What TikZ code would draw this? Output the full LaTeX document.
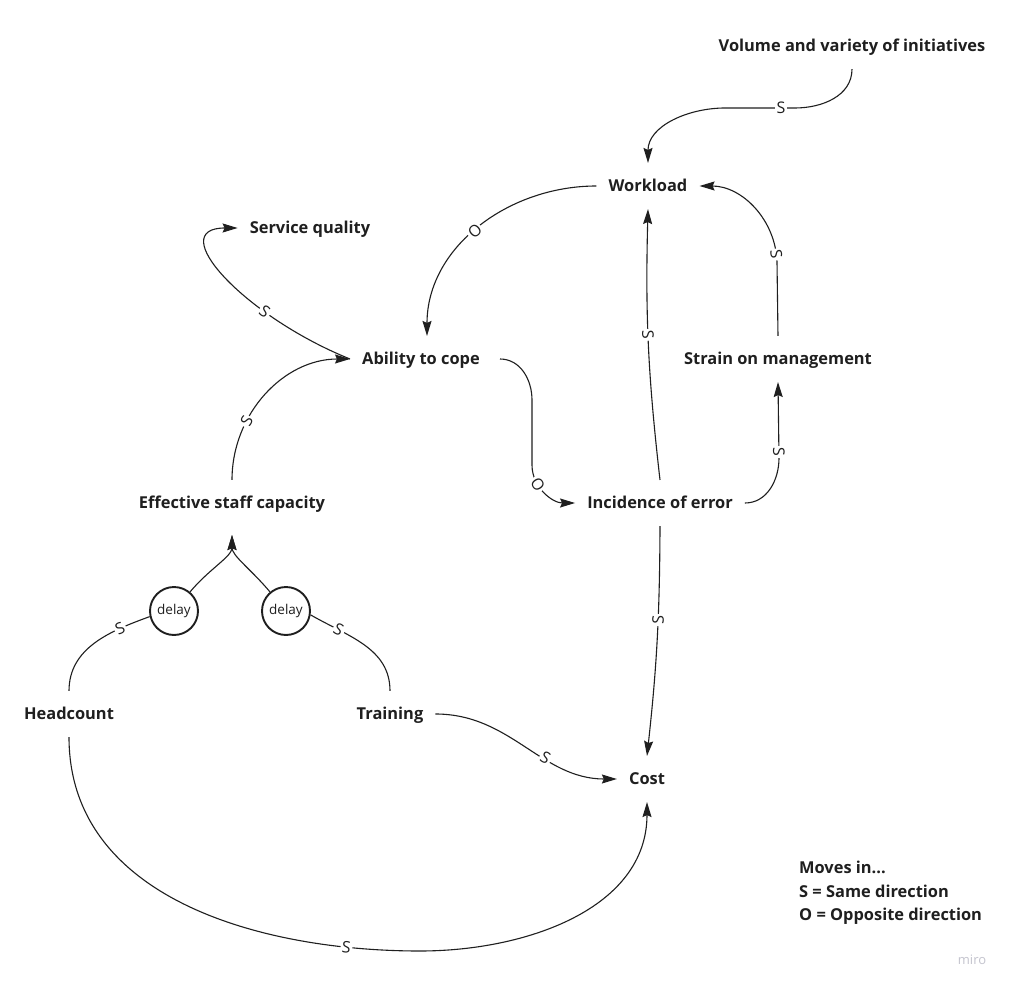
\documentclass[tikz,border=0pt]{standalone}
\usepackage{fontspec}
\setmainfont{Open Sans}
\usetikzlibrary{arrows.meta}
\definecolor{txt}{HTML}{1F1F1F}
\definecolor{miro}{HTML}{C4C4CE}
\begin{document}
\begin{tikzpicture}[x=1pt,y=1pt,
  var/.style={font=\bfseries\fontsize{16.4}{19}\selectfont, text=txt, text height=11.7pt, text depth=0pt, inner xsep=12pt, inner ysep=17pt},
  legend/.style={var, anchor=west, inner xsep=0pt, inner ysep=0pt},
  delaynode/.style={circle, draw=txt, line width=1.9pt, minimum size=48pt, inner sep=0pt, font=\fontsize{13.5}{13.5}\selectfont, text=txt},
  lbl/.style={fill=white, inner sep=1.5pt, font=\fontsize{16}{16}\selectfont, text=txt, sloped},
  plain/.style={draw=txt, line width=1.1pt},
  conn/.style={plain, -{Stealth[length=15pt,width=9pt,inset=2pt]}}]
\useasboundingbox[fill=white] (0,0) rectangle (1012,-987);

\node[var] (vol)  at (852,-46)  {Volume and variety of initiatives};
\node[var] (wl)   at (648,-186) {Workload};
\node[var] (sq)   at (310,-228) {Service quality};
\node[var] (abl)  at (421,-359) {Ability to cope};
\node[var] (sm)   at (778,-359) {Strain on management};
\node[var] (esc)  at (232,-503) {Effective staff capacity};
\node[var] (ioe)  at (660,-503) {Incidence of error};
\node[delaynode] (d1) at (174,-611) {delay};
\node[delaynode] (d2) at (286,-611) {delay};
\node[var] (hc)   at (69,-714)  {Headcount};
\node[var] (tr)   at (390,-714) {Training};
\node[var] (cost) at (647,-779) {Cost};

\node[legend] (l1) at (799,-868) {Moves in...};
\node[legend] (l2) at (799,-892) {S = Same direction};
\node[legend] (l3) at (799,-915) {O = Opposite direction};
\node[font=\fontsize{13}{13}\selectfont, text=miro] (wm) at (972,-960) {miro};

% connectors
\draw[conn] (vol.south) to[out=-90,in=0] (795,-108) -- node[lbl,pos=0.2]{S} (725,-108) to[out=180,in=90] (wl.north);
\draw[conn] (wl.west) to[out=180,in=90] node[lbl,pos=0.52]{O} ([xshift=6pt]abl.north);
\draw[conn] (abl.west) .. controls +(158:115) and +(-74,0) .. node[lbl,pos=0.3]{S} (sq.west);
\draw[conn] (esc.north) to[out=90,in=180] node[lbl,pos=0.32]{S} (abl.west);
\draw[conn] ([xshift=8pt]abl.east) to[out=0,in=90] (532,-400) -- (532,-465) to[out=-90,in=180] node[lbl,pos=0.32]{O} (ioe.west);
\draw[conn] (ioe.north) to[bend left=4] node[lbl,pos=0.54]{S} (wl.south);
\draw[conn] (ioe.east) to[out=0,in=-90] (779,-458) -- node[lbl,pos=0.08]{S} (sm.south);
\draw[conn] (sm.north) -- (777,-262) to[out=92,in=0] node[lbl,pos=0.06]{S} (wl.east);
\draw[conn] (ioe.south) to[bend left=3] node[lbl,pos=0.4]{S} (cost.north);
\draw[conn] (tr.east) to[out=0,in=180] node[lbl,pos=0.62]{S} (cost.west);
\draw[conn] (hc.south) to[out=-90,in=180] node[lbl,pos=0.85]{S} (420,-951) to[out=0,in=-90] (cost.south);
\draw[plain] (hc.north) to[out=90,in=200] node[lbl,pos=0.75]{S} (d1.193);
\draw[plain] (tr.north) to[out=90,in=-30] node[lbl,pos=0.75]{S} (d2.-9);
\draw[conn, shorten >=9pt] (d1.50) to[out=50,in=-90] (esc.south);
\draw[conn, shorten >=9pt] (d2.130) to[out=130,in=-90] (esc.south);
\end{tikzpicture}
\end{document}
